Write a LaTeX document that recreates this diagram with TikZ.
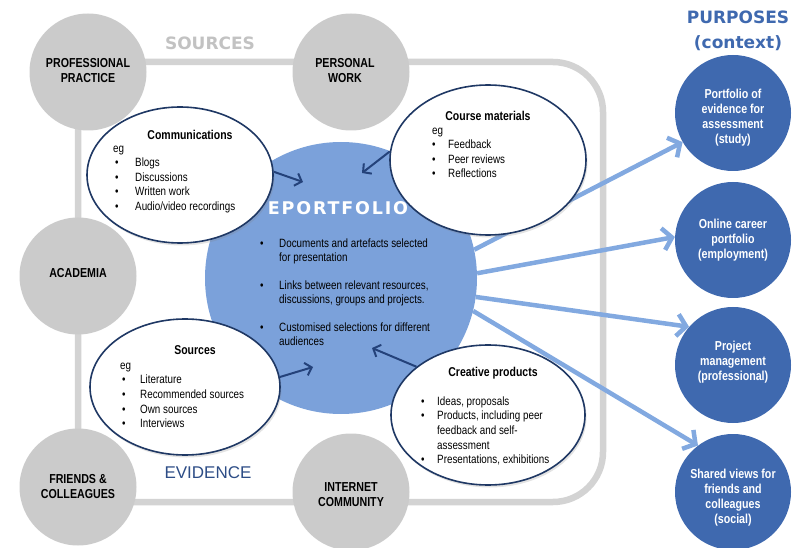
\documentclass[tikz,border=0pt]{standalone}
\usepackage{fontspec}
\setmainfont{Liberation Sans}[FakeStretch=0.82]
\newfontfamily\plainsans{Liberation Sans}
\newfontfamily\heavyfont{DejaVu Sans}
\newfontfamily\spacedfont{DejaVu Sans}[LetterSpace=10.5]
\usetikzlibrary{arrows.meta,shapes.geometric,shadows}
\definecolor{cgray}{HTML}{CBCBCB}
\definecolor{cline}{HTML}{D3D3D3}
\definecolor{ceport}{HTML}{7BA1DA}
\definecolor{carrow}{HTML}{82A9E0}
\definecolor{cpurp}{HTML}{3F69AF}
\definecolor{cnavy}{HTML}{1F3864}
\definecolor{cdarr}{HTML}{24427A}
\definecolor{csrc}{HTML}{C2C2C2}
\definecolor{cev}{HTML}{2D4D86}
\tikzset{
  grayc/.style={circle, fill=cgray, draw=none, minimum size=117pt, inner sep=0pt},
  purp/.style={circle, fill=cpurp, draw=none, minimum size=116pt, inner sep=0pt},
  glabel/.style={font=\bfseries\fontsize{13}{15}\selectfont, align=center, inner sep=0pt, text=black},
  plabel/.style={font=\bfseries\fontsize{13}{15}\selectfont, align=center, inner sep=0pt, text=white},
  evell/.style={ellipse, draw=cnavy, line width=1.6pt, fill=white, inner sep=0pt,
    drop shadow={opacity=0.22, shadow xshift=1.5pt, shadow yshift=-2.5pt}},
  etitle/.style={font=\bfseries\fontsize{12.8}{15}\selectfont, inner sep=0pt},
  elist/.style={font=\fontsize{12}{14.6}\selectfont, align=left, inner sep=0pt, anchor=north west},
  darr/.style={draw=cdarr, line width=2pt, -{Straight Barb[length=6pt,width=13pt]}},
  barr/.style={draw=carrow, line width=4.5pt, -{Straight Barb[length=9pt,width=22pt]}},
  frame/.style={draw=cline, line width=6.5pt, rounded corners=50pt},
}
\newcommand{\fstrut}{\rule{0pt}{9pt}}
\newcommand{\bl}[1]{\makebox[#1][l]{\textbullet}}
\begin{document}
\begin{tikzpicture}[x=1pt,y=-1pt]
\useasboundingbox (0,0) rectangle (804,548);
% frame
\draw[frame] (78,62) rectangle (603,502);
% gray source circles
\node[grayc] (pp) at (88,72) {};
\node[grayc] (pw) at (351,72) {};
\node[grayc] (ac) at (78,276) {};
\node[grayc] (fc) at (78,487) {};
\node[grayc] (ic) at (351,492) {};
\node[glabel] (ppt) at (88,70.5) {PROFESSIONAL\\PRACTICE};
\node[glabel] (pwt) at (345,70.5) {PERSONAL\\WORK};
\node[glabel] (act) at (78,273) {ACADEMIA};
\node[glabel] (fct) at (78,487) {FRIENDS \&\\COLLEAGUES};
\node[glabel] (ict) at (351,494.5) {INTERNET\\COMMUNITY};
\node[inner sep=0pt, text=csrc, font=\heavyfont\bfseries\fontsize{17}{20}\selectfont] (srct) at (210,43) {SOURCES};
\node[inner sep=0pt, text=cev, font=\plainsans\fontsize{17}{20}\selectfont] (evt) at (208,473) {EVIDENCE};
% eportfolio
\node[circle, fill=ceport, minimum size=272pt, inner sep=0pt] (eport) at (341,278) {};
% purpose circles
\node[purp] (p1) at (733,113) {};
\node[purp] (p2) at (733,240) {};
\node[purp] (p3) at (733,365) {};
\node[purp] (p4) at (733,492) {};
\node[plabel] (p1t) at (733,118) {Portfolio of\\evidence for\\assessment\\(study)};
\node[plabel] (p2t) at (733,240) {Online career\\portfolio\\(employment)};
\node[plabel] (p3t) at (733,362) {Project\\management\\(professional)};
\node[plabel] (p4t) at (733,497.5) {Shared views for\\friends and\\colleagues\\(social)};
\node[inner sep=0pt, text=cpurp, font=\heavyfont\bfseries\fontsize{17}{20}\selectfont] (purt) at (738,17) {PURPOSES};
\node[inner sep=0pt, text=cpurp, font=\heavyfont\bfseries\fontsize{17}{20}\selectfont] (cont) at (738,43) {(context)};
% light blue arrows
\draw[barr] (eport.12) -- (p1.210);
\draw[barr] (eport.2) -- (p2.177);
\draw[barr] (eport.-8) -- (p3.139);
\draw[barr] (eport.-14) -- (p4.127);
% eportfolio text
\node[inner sep=0pt, text=white, font=\spacedfont\bfseries\fontsize{17.5}{20}\selectfont] (ept) at (338,208) {EPORTFOLIO};
\node[elist, font=\fontsize{12}{14}\selectfont] (epl) at (260,238) {%
\fstrut\bl{19pt}Documents and artefacts selected\\
\hspace*{19pt}for presentation\\[14pt]
\bl{19pt}Links between relevant resources,\\
\hspace*{19pt}discussions, groups and projects.\\[14pt]
\bl{19pt}Customised selections for different\\
\hspace*{19pt}audiences};
% ellipses
\node[evell, minimum width=186pt, minimum height=136pt] (comm) at (180,175) {};
\node[evell, minimum width=196pt, minimum height=150pt] (course) at (488,160) {};
\node[evell, minimum width=190pt, minimum height=136pt] (src) at (185,387) {};
\node[evell, minimum width=194pt, minimum height=140pt] (cre) at (488,415) {};
% ellipse texts
\node[etitle] (commt) at (190,135) {Communications};
\node[elist] (comml) at (113,143) {\fstrut eg\\
\hspace*{2pt}\bl{20pt}Blogs\\
\hspace*{2pt}\bl{20pt}Discussions\\
\hspace*{2pt}\bl{20pt}Written work\\
\hspace*{2pt}\bl{20pt}Audio/video recordings};
\node[etitle] (courset) at (488,116) {Course materials};
\node[elist] (coursel) at (432,125) {\fstrut eg\\
\bl{16pt}Feedback\\
\bl{16pt}Peer reviews\\
\bl{16pt}Reflections};
\node[etitle] (srcet) at (195,350) {Sources};
\node[elist] (srcl) at (120,360) {\fstrut eg\\
\hspace*{2pt}\bl{18pt}Literature\\
\hspace*{2pt}\bl{18pt}Recommended sources\\
\hspace*{2pt}\bl{18pt}Own sources\\
\hspace*{2pt}\bl{18pt}Interviews};
\node[etitle] (cret) at (493,373) {Creative products};
\node[elist] (crel) at (421,396) {\fstrut\bl{16pt}Ideas, proposals\\
\bl{16pt}Products, including peer\\
\hspace*{16pt}feedback and self-\\
\hspace*{16pt}assessment\\
\bl{16pt}Presentations, exhibitions};
% dark arrows
\coordinate (t1) at (303,182);
\coordinate (t2) at (362,173);
\coordinate (t3) at (313,367);
\coordinate (t4) at (372,348);
\draw[darr] (comm.2) -- (t1);
\draw[darr] (course.175) -- (t2);
\draw[darr] (src.6) -- (t3);
\draw[darr] (cre.146) -- (t4);
\end{tikzpicture}
\end{document}
